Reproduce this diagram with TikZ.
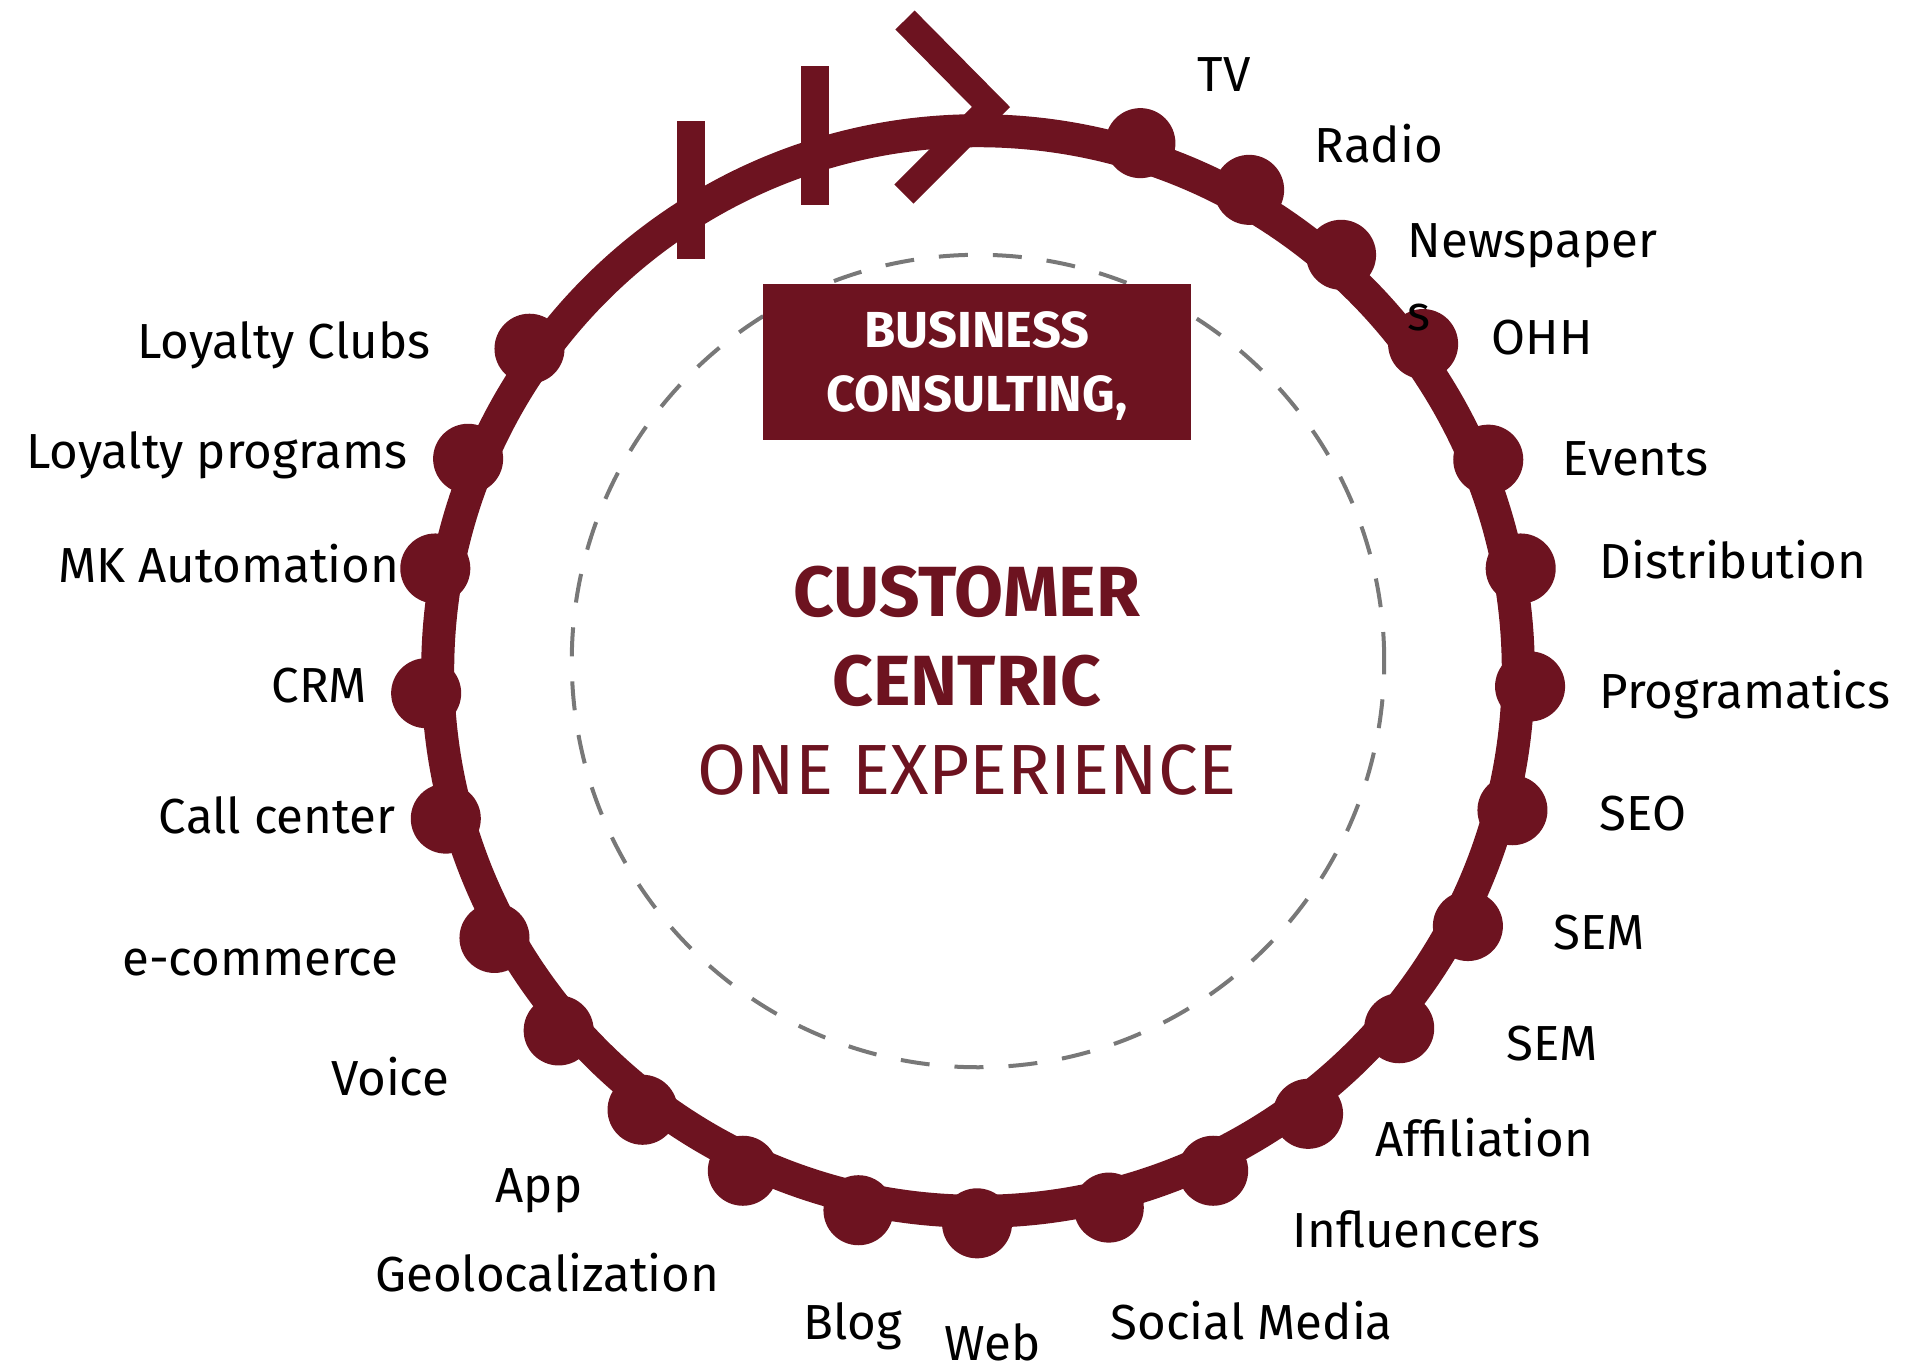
\documentclass[tikz,border=0pt]{standalone}
\usepackage{fontspec}
\setmainfont{Fira Sans}
\definecolor{BrandRed}{RGB}{109,19,32}
\definecolor{DashGray}{RGB}{120,120,120}
\tikzset{
    ring/.style={draw=BrandRed, line width=0.33cm},
    dot/.style={circle, fill=BrandRed, minimum size=0.70cm, inner sep=0pt},
    bar/.style={draw=BrandRed, line width=0.27cm},
    channel/.style={font=\fontsize{14}{20.5}\selectfont, inner sep=0pt, align=left},
    consult/.style={rectangle, fill=BrandRed, text=white, minimum width=4.28cm, minimum height=1.55cm, align=center, text depth=0.1ex, font=\bfseries\fontsize{14.4}{18.2}\selectfont},
    title/.style={text=BrandRed, align=center, inner sep=0pt, font=\fontsize{20.2}{25.3}\selectfont}
}

\begin{document}
\begin{tikzpicture}[x=0.01cm, y=-0.01cm]
\useasboundingbox (0,0) rectangle (1929,1365);
\coordinate (hub) at (978,671);

% dashed inner circle and the centre texts
\draw[DashGray, line width=0.04cm, dash pattern=on 0.29cm off 0.25cm] (978,661) circle (4.06cm);
\node[consult] (consult) at (977,362) {BUSINESS\\CONSULTING,};
\node[title] (core) at (967,681) {\textbf{CUSTOMER}\\\textbf{CENTRIC}\\ONE EXPERIENCE};

% outer ring with the start marks
\draw[ring] (hub) circle (5.4cm);
\draw[bar] (691,121) -- (691,259);
\draw[bar] (815,66) -- (815,205);
\draw[bar, line join=miter] (905,20) -- (991,107) -- (904,194);

% channel points
\foreach \ang/\id in {72.9/tv, 60.6/radio, 48.9/news, 36.3/ohh, 22.5/events, 10.7/distrib,
    -1.6/prog, -14.6/seo, -27.5/sem, -40.3/semb, -53.3/affil, -64.8/influ, -76.3/social,
    -90.1/web, -102.5/blog, -115.2/geo, -127.4/app, -139.4/voice, -151.1/ecom,
    -164.5/call, -177.7/crm, 169.3/mk, 157.4/lprog, 144.3/lclub}
    \node[dot] (\id) at ([shift={(hub)}] \ang:5.52cm) {};

% labels, right half
\foreach \x/\y/\id/\txt in {1197/91/tv/TV, 1314/162/radio/Radio, 1407/330/news/{Newspaper\\s},
    1491/354/ohh/OHH, 1562/475/events/Events, 1599/578/distrib/Distribution,
    1599/708/prog/Programatics, 1599/830/seo/SEO, 1553/949/sem/SEM, 1506/1060/semb/SEM,
    1375/1156/affil/Affiliation, 1292/1247/influ/Influencers, 1110/1339/social/Social Media,
    944/1360/web/Web, 803/1339/blog/Blog}
    \node[channel, anchor=base west] (\id-txt) at (\x,\y) {\txt};

% labels, left half
\foreach \x/\y/\id/\txt in {720/1291/geo/Geolocalization, 583/1202/app/App, 450/1095/voice/Voice,
    399/975/ecom/e-commerce, 396/833/call/Call center, 368/702/crm/CRM,
    400/582/mk/MK Automation, 408/468/lprog/Loyalty programs, 431/358/lclub/Loyalty Clubs}
    \node[channel, anchor=base east] (\id-txt) at (\x,\y) {\txt};
\end{tikzpicture}
\end{document}
